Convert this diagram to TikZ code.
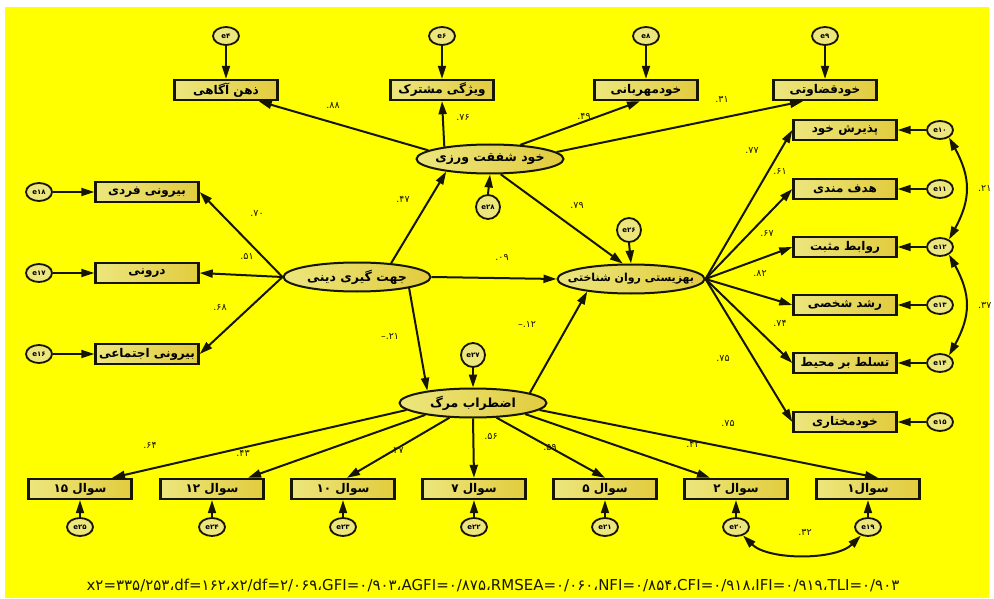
\documentclass[tikz,border=0pt]{standalone}
\usepackage{fontspec}
\setmainfont{DejaVu Sans}
\newfontfamily\pf[Script=Arabic]{DejaVu Sans}
\newfontfamily\nf{DejaVu Sans}
\TeXXeTstate=1
\usetikzlibrary{shapes.geometric,arrows.meta}
\definecolor{bgy}{RGB}{255,255,0}
\definecolor{boxl}{RGB}{236,230,125}
\definecolor{boxr}{RGB}{226,204,62}
\definecolor{edgec}{RGB}{22,22,0}
\newcommand\faR[1]{{\pf\beginR #1\endR}}
\newcommand\faZ[1]{\makebox[0pt]{\pf\beginR #1\endR}}
\tikzset{
 obs/.style={draw=edgec, line width=2.4pt, left color=boxl, right color=boxr, minimum width=103pt, minimum height=20pt, inner sep=0pt, font=\pf\bfseries\fontsize{12}{13}\selectfont},
 lat/.style={ellipse, draw=edgec, line width=2pt, left color=boxl, right color=boxr, minimum width=147pt, minimum height=29pt, inner sep=0pt, font=\pf\bfseries\fontsize{12.5}{13}\selectfont},
 err/.style={ellipse, draw=edgec, line width=1.8pt, fill=boxl, minimum width=26pt, minimum height=18pt, inner sep=0pt, font=\nf\bfseries\fontsize{7}{8}\selectfont},
 errc/.style={circle, draw=edgec, line width=1.8pt, fill=boxl, minimum size=24pt, inner sep=0pt, font=\nf\bfseries\fontsize{7}{8}\selectfont},
 coef/.style={font=\nf\fontsize{9.5}{10}\selectfont, text=edgec, inner sep=0pt},
 arr/.style={-{Triangle[length=13pt,width=8pt]}, line width=2pt, draw=edgec},
 dbl/.style={{Triangle[length=13pt,width=8pt]}-{Triangle[length=13pt,width=8pt]}, line width=2pt, draw=edgec}
}
\begin{document}
\begin{tikzpicture}[x=1pt,y=-1pt]
\useasboundingbox (0,0) rectangle (994,599);
\fill[white] (0,0) rectangle (994,599);
\fill[bgy] (5,7) rectangle (989,598);

% latent variables
\node[lat] (jahat) at (357,277) {\faZ{جهت گیری دینی}};
\node[lat] (khod) at (490,159) {\faZ{خود شفقت ورزی}};
\node[lat, font=\pf\bfseries\fontsize{11}{12}\selectfont] (behz) at (631,279) {\faZ{بهزیستی روان شناختی}};
\node[lat] (ezt) at (473,403) {\faZ{اضطراب مرگ}};

% top boxes
\node[obs] (zehn) at (226,90) {\faR{ذهن آگاهی}};
\node[obs] (vizh) at (442,90) {\faR{ویژگی مشترک}};
\node[obs] (mehr) at (646,90) {\faR{خودمهربانی}};
\node[obs] (ghez) at (825,90) {\faR{خودقضاوتی}};
\node[err] (e4) at (226,36) {e۴};
\node[err] (e6) at (442,36) {e۶};
\node[err] (e8) at (646,36) {e۸};
\node[err] (e9) at (825,36) {e۹};

% left boxes
\node[obs] (ferd) at (147,192) {\faR{بیرونی فردی}};
\node[obs] (daru) at (147,273) {\faR{درونی}};
\node[obs] (ejte) at (147,354) {\faR{بیرونی اجتماعی}};
\node[err] (e18) at (39,192) {e۱۸};
\node[err] (e17) at (39,273) {e۱۷};
\node[err] (e16) at (39,354) {e۱۶};

% right boxes
\node[obs] (pazi) at (845,130) {\faR{پذیرش خود}};
\node[obs] (hadaf) at (845,189) {\faR{هدف مندی}};
\node[obs] (rava) at (845,247) {\faR{روابط مثبت}};
\node[obs] (roshd) at (845,305) {\faR{رشد شخصی}};
\node[obs] (tasl) at (845,363) {\faR{تسلط بر محیط}};
\node[obs] (mokh) at (845,422) {\faR{خودمختاری}};
\node[err] (e10) at (940,130) {e۱۰};
\node[err] (e11) at (940,189) {e۱۱};
\node[err] (e12) at (940,247) {e۱۲};
\node[err] (e13) at (940,305) {e۱۳};
\node[err] (e14) at (940,363) {e۱۴};
\node[err] (e15) at (940,422) {e۱۵};

% center errors
\node[errc] (e28) at (488,207) {e۲۸};
\node[errc] (e26) at (629,230) {e۲۶};
\node[errc] (e27) at (473,355) {e۲۷};

% bottom boxes
\node[obs] (q15) at (80,489) {\faR{سوال ۱۵}};
\node[obs] (q12) at (212,489) {\faR{سوال ۱۲}};
\node[obs] (q10) at (343,489) {\faR{سوال ۱۰}};
\node[obs] (q7) at (474,489) {\faR{سوال ۷}};
\node[obs] (q5) at (605,489) {\faR{سوال ۵}};
\node[obs] (q2) at (736,489) {\faR{سوال ۲}};
\node[obs] (q1) at (868,489) {\faR{سوال۱}};
\node[err] (e25) at (80,527) {e۲۵};
\node[err] (e24) at (212,527) {e۲۴};
\node[err] (e23) at (343,527) {e۲۳};
\node[err] (e22) at (474,527) {e۲۲};
\node[err] (e21) at (605,527) {e۲۱};
\node[err] (e20) at (736,527) {e۲۰};
\node[err] (e19) at (868,527) {e۱۹};

% edges: error terms
\foreach \e/\b in {e4/zehn,e6/vizh,e8/mehr,e9/ghez} \draw[arr] (\e.south) -- (\b.north);
\foreach \e/\b in {e18/ferd,e17/daru,e16/ejte} \draw[arr] (\e.east) -- (\b.west);
\foreach \e/\b in {e10/pazi,e11/hadaf,e12/rava,e13/roshd,e14/tasl,e15/mokh} \draw[arr] (\e.west) -- (\b.east);
\foreach \e/\b in {e25/q15,e24/q12,e23/q10,e22/q7,e21/q5,e20/q2,e19/q1} \draw[arr] (\e.north) -- (\b.south);
\draw[arr] (e28.north) -- (khod.south);
\draw[arr] (e26.south) -- (behz.north);
\draw[arr] (e27.south) -- (ezt.north);

% structural paths
\draw[arr] (jahat.22) -- (khod.196);
\draw[arr] (jahat.east) -- (behz.west);
\draw[arr] (jahat.-12) -- (ezt.165);
\draw[arr] (khod.-55) -- (behz.118);
\draw[arr] (ezt.10) -- (behz.196);

% loadings
\draw[arr] (khod.172) -- ([xshift=-20pt]zehn.south east);
\draw[arr] (khod.165) -- (vizh.south);
\draw[arr] (khod.25) -- ([xshift=-6pt]mehr.south);
\draw[arr] (khod.6) -- ([xshift=-22pt]ghez.south);
\draw[arr] (jahat.west) -- (ferd.east);
\draw[arr] (jahat.west) -- (daru.east);
\draw[arr] (jahat.west) -- (ejte.east);
\foreach \b in {pazi,hadaf,rava,roshd,tasl,mokh} \draw[arr] (behz.east) -- (\b.west);
\draw[arr] (ezt.186) -- ([xshift=32pt]q15.north);
\draw[arr] (ezt.194) -- ([xshift=36pt]q12.north);
\draw[arr] (ezt.212) -- ([xshift=4pt]q10.north);
\draw[arr] (ezt.south) -- (q7.north);
\draw[arr] (ezt.-32) -- (q5.north);
\draw[arr] (ezt.-12) -- ([xshift=-26pt]q2.north);
\draw[arr] (ezt.-6) -- ([xshift=10pt]q1.north);

% correlations
\draw[dbl] (e10.-40) .. controls +(22,40) and +(22,-40) .. (e12.40);
\draw[dbl] (e12.-40) .. controls +(22,40) and +(22,-40) .. (e14.40);
\draw[dbl] (e20.-50) .. controls +(25,25) and +(-25,25) .. (e19.-130);

% coefficients
\node[coef] (c1) at (333,105) {.۸۸};
\node[coef] (c2) at (463,117) {.۷۶};
\node[coef] (c3) at (584,116) {.۴۹};
\node[coef] (c4) at (722,99) {.۳۱};
\node[coef] (c5) at (257,213) {.۷۰};
\node[coef] (c6) at (247,256) {.۵۱};
\node[coef] (c7) at (220,307) {.۶۸};
\node[coef] (c8) at (403,199) {.۴۷};
\node[coef] (c9) at (577,205) {.۷۹};
\node[coef] (c10) at (502,257) {.۰۹};
\node[coef] (c11) at (390,336) {–.۲۱};
\node[coef] (c12) at (527,324) {–.۱۲};
\node[coef] (c13) at (752,150) {.۷۷};
\node[coef] (c14) at (780,171) {.۶۱};
\node[coef] (c15) at (767,233) {.۶۷};
\node[coef] (c16) at (760,273) {.۸۲};
\node[coef] (c17) at (780,323) {.۷۴};
\node[coef] (c18) at (723,358) {.۷۵};
\node[coef] (c19) at (728,423) {.۷۵};
\node[coef] (c20) at (150,445) {.۶۴};
\node[coef] (c21) at (243,453) {.۴۳};
\node[coef] (c22) at (397,450) {.۳۷};
\node[coef] (c23) at (491,436) {.۵۶};
\node[coef] (c24) at (550,447) {.۵۹};
\node[coef] (c25) at (693,444) {.۴۲};
\node[coef, anchor=west] (c26) at (978,188) {.۲۱};
\node[coef, anchor=west] (c27) at (978,305) {.۳۷};
\node[coef] (c28) at (805,532) {.۳۲};

% fit indices
\node[font=\nf\fontsize{15}{16}\selectfont, text=edgec, inner sep=0pt] (fit) at (493,585) {x۲=۳۳۵/۲۵۳،df=۱۶۲،x۲/df=۲/۰۶۹،GFI=۰/۹۰۳،AGFI=۰/۸۷۵،RMSEA=۰/۰۶۰،NFI=۰/۸۵۴،CFI=۰/۹۱۸،IFI=۰/۹۱۹،TLI=۰/۹۰۳};
\end{tikzpicture}
\end{document}
